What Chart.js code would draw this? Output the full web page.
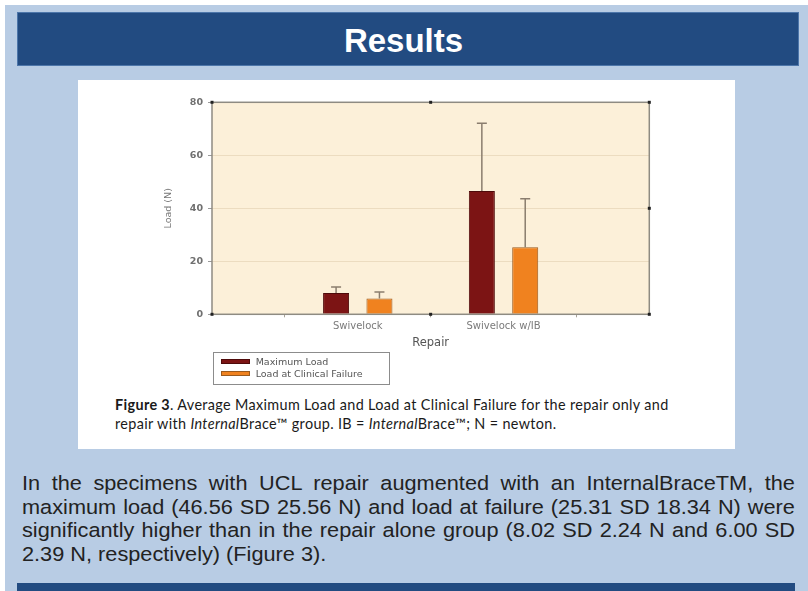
<!DOCTYPE html>
<html>
<head>
<meta charset="utf-8">
<title>Results</title>
<script src="https://cdn.jsdelivr.net/npm/chart.js@4.4.0/dist/chart.umd.min.js"></script>
<style>
  html, body { margin: 0; padding: 0; }
  body { width: 808px; height: 591px; position: relative; overflow: hidden; background: #fff;
         font-family: "Liberation Sans", Arial, sans-serif; }
  .slide { position: absolute; left: 5px; top: 5px; width: 803px; height: 586px; background: #b8cce4; }
  .header { position: absolute; left: 17px; top: 12px; width: 782px; height: 54px; box-sizing: border-box;
            background: #224b81; border: 1px solid #4d76aa; color: #fff; font-weight: bold;
            font-size: 33px; text-align: center; line-height: 54px; padding: 1px 9px 0 0; }
  .panel { position: absolute; left: 78px; top: 80px; width: 657px; height: 369px; background: #fff; }
  #chartBox { position: absolute; left: 78px; top: 80px; width: 657px; height: 275px; }
  #legend { position: absolute; left: 212.7px; top: 351.7px; width: 177px; height: 33px; box-sizing: border-box;
            border: 1px solid #8c8c8c; padding: 3.6px 0 0 7.3px; font: 9.5px "DejaVu Sans", sans-serif; color: #555; }
  #legend .item { height: 11.3px; display: flex; align-items: center; white-space: nowrap; }
  #legend .sw { width: 29px; height: 5px; border: 1px solid; box-sizing: border-box; margin-right: 5.7px; }
  .caption { position: absolute; left: 115px; top: 395px; font: 14.4px Lato, "Open Sans", sans-serif;
             letter-spacing: 0.35px; line-height: 19px; color: #1a1a1a; white-space: nowrap; }
  .body-text { position: absolute; left: 21.7px; top: 471px; font-size: 20.5px;
               line-height: 23.5px; color: #222; }
  .body-text div { width: 729.2px; transform: scaleX(1.06); transform-origin: left top;
                   text-align: justify; text-align-last: justify; white-space: nowrap; }
  .body-text div.last { text-align-last: left; }
  .footer { position: absolute; left: 17px; top: 583px; width: 778px; height: 8px; background: #224b81; }
</style>
</head>
<body>
<div class="slide"></div>
<div class="header">Results</div>
<div class="panel"></div>
<div id="chartBox"><canvas id="loadChart" width="657" height="275"></canvas></div>
<div id="legend"></div>
<div class="caption">
  <div><b>Figure 3</b>. Average Maximum Load and Load at Clinical Failure for the repair only and</div>
  <div>repair with <i>Internal</i>Brace™ group. IB = <i>Internal</i>Brace™; N = newton.</div>
</div>
<div class="body-text">
  <div>In the specimens with UCL repair augmented with an InternalBraceTM, the</div>
  <div>maximum load (46.56 SD 25.56 N) and load at failure (25.31 SD 18.34 N) were</div>
  <div>significantly higher than in the repair alone group (8.02 SD 2.24 N and 6.00 SD</div>
  <div class="last">2.39 N, respectively) (Figure 3).</div>
</div>
<div class="footer"></div>

<script>
// categories (empty ends keep the groups at 1/3 and 2/3 of the axis)
const categories = ['', 'Swivelock', 'Swivelock w/IB', ''];
const seriesNames = ['Maximum Load', 'Load at Clinical Failure'];
const maxLoad = [null, 8.02, 46.56, null];
const maxLoadSD = [null, 2.24, 25.56, null];
const clinicalLoad = [null, 6.00, 25.31, null];
const clinicalLoadSD = [null, 2.39, 18.34, null];
const yTicks = [0, 20, 40, 60, 80];

// cream plot background + frame with the small corner marks
const plotFrame = {
  id: 'plotFrame',
  beforeDraw(chart) {
    const { ctx, chartArea: a } = chart;
    ctx.save();
    ctx.fillStyle = '#fcf0d9';
    ctx.fillRect(a.left, a.top, a.width, a.height);
    ctx.restore();
  },
  afterDraw(chart) {
    const { ctx, chartArea: a, scales } = chart;
    ctx.save();
    ctx.strokeStyle = '#8e8b82';
    ctx.lineWidth = 1.5;
    ctx.strokeRect(a.left, a.top, a.width, a.height);
    ctx.fillStyle = '#222';
    const mid = (a.left + a.right) / 2;
    const yMid = scales.y.getPixelForValue(yTicks[2]);
    [[a.left, a.top], [mid, a.top], [a.right, a.top], [a.right, yMid],
     [a.right, a.bottom], [mid, a.bottom], [a.left, a.bottom]].forEach(([x, y]) => {
      ctx.fillRect(x - 1.5, y - 1.5, 3, 3);
    });
    ctx.restore();
  }
};

// upper error bars (mean + SD)
const errorBars = {
  id: 'errorBars',
  afterDatasetsDraw(chart) {
    const { ctx, scales: { y } } = chart;
    ctx.save();
    ctx.strokeStyle = '#8a7d6e';
    ctx.lineWidth = 1.5;
    chart.data.datasets.forEach((ds, i) => {
      const meta = chart.getDatasetMeta(i);
      meta.data.forEach((bar, j) => {
        const v = ds.data[j], sd = ds.sd[j];
        if (v == null || sd == null) return;
        const yTop = y.getPixelForValue(v + sd);
        ctx.beginPath();
        ctx.moveTo(bar.x, bar.y);
        ctx.lineTo(bar.x, yTop);
        ctx.moveTo(bar.x - 5, yTop);
        ctx.lineTo(bar.x + 5, yTop);
        ctx.stroke();
      });
    });
    ctx.restore();
  }
};

const ctx = document.getElementById('loadChart').getContext('2d');

const loadChart = new Chart(ctx, {
  type: 'bar',
  data: {
    labels: categories,
    datasets: [{
      label: seriesNames[0],
      data: maxLoad,
      sd: maxLoadSD,
      backgroundColor: '#7c1414',
      borderColor: '#4e0a0a',
      borderWidth: 1
    }, {
      label: seriesNames[1],
      data: clinicalLoad,
      sd: clinicalLoadSD,
      backgroundColor: '#f0821f',
      borderColor: '#9a5a1e',
      borderWidth: 1
    }]
  },
  options: {
    responsive: false,
    animation: false,
    categoryPercentage: 0.595,
    barPercentage: 0.6,
    layout: { padding: { left: 84.6, right: 85.7, top: 22.3, bottom: 5.4 } },
    scales: {
      x: {
        type: 'category',
        offset: false,
        grid: { drawOnChartArea: false, drawTicks: true, tickLength: 3, tickColor: '#a8a298' },
        border: { display: false },
        ticks: {
          font: { family: 'DejaVu Sans', size: 10 },
          color: '#7a7a7a',
          padding: 3,
          maxRotation: 0,
          autoSkip: false
        },
        title: {
          display: true,
          text: 'Repair',
          font: { family: 'DejaVu Sans', size: 11.5 },
          color: '#555',
          padding: 0
        },
        afterFit(axis) { axis.height = 35.3; }
      },
      y: {
        min: yTicks[0],
        max: yTicks[yTicks.length - 1],
        grid: { color: '#ecdcc0', tickLength: 4, tickColor: '#9a9a9a' },
        border: { display: false },
        ticks: {
          stepSize: yTicks[1] - yTicks[0],
          font: { family: 'DejaVu Sans', size: 9.5, weight: 'bold' },
          color: '#707070',
          padding: 5
        },
        title: {
          display: true,
          text: 'Load (N)',
          font: { family: 'DejaVu Sans', size: 9.5 },
          color: '#777',
          padding: 0
        },
        afterFit(axis) { axis.width = 49.4; }
      }
    },
    plugins: {
      legend: { display: false },
      tooltip: { enabled: false }
    }
  },
  plugins: [plotFrame, errorBars]
});

// legend box built from the chart's datasets
const legendBox = document.getElementById('legend');
loadChart.data.datasets.forEach(ds => {
  const row = document.createElement('div');
  row.className = 'item';
  const sw = document.createElement('span');
  sw.className = 'sw';
  sw.style.background = ds.backgroundColor;
  sw.style.borderColor = ds.borderColor;
  row.appendChild(sw);
  row.appendChild(document.createTextNode(ds.label));
  legendBox.appendChild(row);
});
</script>
</body>
</html>
